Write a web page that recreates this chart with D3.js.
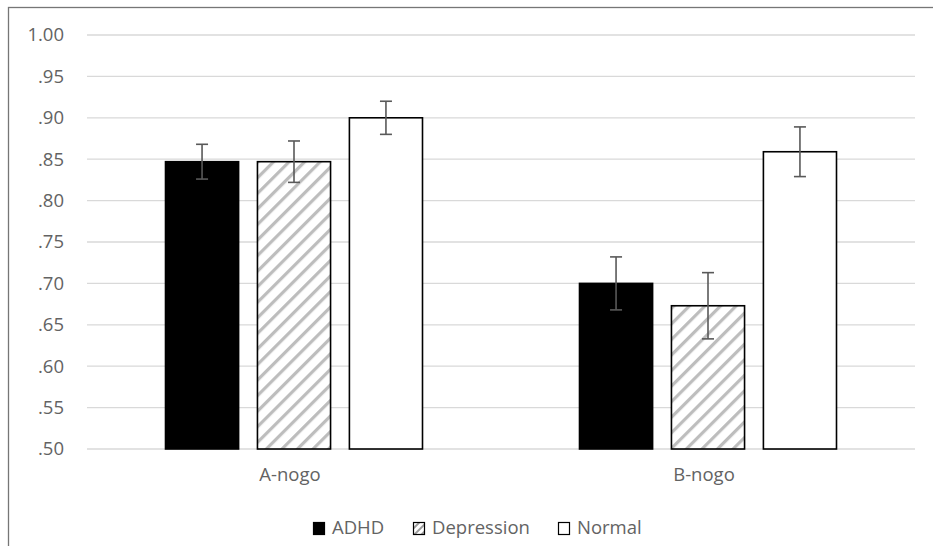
<!DOCTYPE html>
<html>
<head>
<meta charset="utf-8">
<script src="https://cdn.jsdelivr.net/npm/d3@7"></script>
<style>
  body { margin: 0; background: #fff; }
  svg { display: block; font-family: "Open Sans", "Noto Sans", sans-serif; }
</style>
</head>
<body>
<div id="chart"></div>
<script>
// chart data
const categories = ['A-nogo', 'B-nogo'];
const groups = ['ADHD', 'Depression', 'Normal'];
const means = {
  ADHD: [0.847, 0.700],
  Depression: [0.847, 0.673],
  Normal: [0.900, 0.859]
};
const errors = {
  ADHD: [0.021, 0.032],
  Depression: [0.025, 0.040],
  Normal: [0.020, 0.030]
};
const yTicks = [0.50, 0.55, 0.60, 0.65, 0.70, 0.75, 0.80, 0.85, 0.90, 0.95, 1.00];

const W = 933, H = 546;
const margin = { top: 35, right: 18, bottom: 97, left: 87 };
const width = W - margin.left - margin.right;
const height = H - margin.top - margin.bottom;
const fontSize = '18.5px';

const svg = d3.select('#chart').append('svg')
  .attr('width', W).attr('height', H);

// hatch pattern for Depression
const defs = svg.append('defs');
const pat = defs.append('pattern')
  .attr('id', 'hatch')
  .attr('patternUnits', 'userSpaceOnUse')
  .attr('width', 11).attr('height', 11)
  .attr('patternTransform', 'rotate(45)');
pat.append('rect').attr('width', 11).attr('height', 11).attr('fill', '#fff');
pat.append('rect').attr('x', 0).attr('y', 0).attr('width', 3.2).attr('height', 11).attr('fill', '#bdbdbd');

const legPat = defs.append('pattern')
  .attr('id', 'hatchSmall')
  .attr('patternUnits', 'userSpaceOnUse')
  .attr('width', 5).attr('height', 5)
  .attr('patternTransform', 'rotate(45)');
legPat.append('rect').attr('width', 5).attr('height', 5).attr('fill', '#fff');
legPat.append('rect').attr('width', 2).attr('height', 5).attr('fill', '#9a9a9a');

// outer chart border
svg.append('rect')
  .attr('x', 8.5).attr('y', 7.5)
  .attr('width', W + 10).attr('height', H + 10)
  .attr('fill', 'none').attr('stroke', '#767676').attr('stroke-width', 1.3);

const g = svg.append('g').attr('transform', `translate(${margin.left},${margin.top})`);

const x0 = d3.scaleBand().domain(categories).range([0, width]).paddingInner(0).paddingOuter(0);
const x1 = d3.scaleBand().domain(groups).range([0, 257]).paddingInner(0.205).paddingOuter(0);
const y = d3.scaleLinear().domain([0.5, 1.0]).range([height, 0]);

// gridlines
g.append('g').selectAll('line').data(yTicks).enter().append('line')
  .attr('x1', 0).attr('x2', width)
  .attr('y1', d => y(d)).attr('y2', d => y(d))
  .attr('stroke', '#d9d9d9').attr('stroke-width', 1.3);

// y axis labels
const yAxis = d3.axisLeft(y).tickValues(yTicks)
  .tickSize(0).tickPadding(23)
  .tickFormat(d => d === 1 ? '1.00' : d3.format('.2f')(d).replace(/^0/, ''));
g.append('g').call(yAxis)
  .call(s => s.select('.domain').remove())
  .selectAll('text')
  .attr('fill', '#636363').style('font-size', fontSize)
  .style('font-family', '"Open Sans", "Noto Sans", sans-serif');

// x axis labels
g.append('g').attr('transform', `translate(-4,${height})`)
  .call(d3.axisBottom(x0).tickSize(0).tickPadding(19))
  .call(s => s.select('.domain').remove())
  .selectAll('text')
  .attr('fill', '#636363').style('font-size', fontSize)
  .style('font-family', '"Open Sans", "Noto Sans", sans-serif');

const fills = { ADHD: '#000', Depression: 'url(#hatch)', Normal: '#fff' };

const rows = [];
categories.forEach((c, i) => {
  groups.forEach(gr => rows.push({ cat: c, group: gr, v: means[gr][i], e: errors[gr][i] }));
});

const groupOffset = (x0.bandwidth() - 257) / 2;

const bars = g.append('g');
bars.selectAll('rect').data(rows).enter().append('rect')
  .attr('x', d => x0(d.cat) + groupOffset + x1(d.group))
  .attr('y', d => y(d.v))
  .attr('width', x1.bandwidth())
  .attr('height', d => height - y(d.v))
  .attr('fill', d => fills[d.group])
  .attr('stroke', '#000').attr('stroke-width', 1.6);

// error bars
const eb = g.append('g').attr('stroke', '#595959').attr('stroke-width', 1.6);
rows.forEach(d => {
  const cx = x0(d.cat) + groupOffset + x1(d.group) + x1.bandwidth() / 2;
  eb.append('line').attr('x1', cx).attr('x2', cx).attr('y1', y(d.v + d.e)).attr('y2', y(d.v - d.e));
  eb.append('line').attr('x1', cx - 6).attr('x2', cx + 6).attr('y1', y(d.v + d.e)).attr('y2', y(d.v + d.e));
  eb.append('line').attr('x1', cx - 6).attr('x2', cx + 6).attr('y1', y(d.v - d.e)).attr('y2', y(d.v - d.e));
});

// legend
const legendX = [313, 413, 558];
const leg = svg.append('g');
groups.forEach((gr, i) => {
  leg.append('rect')
    .attr('x', legendX[i] + 0.5).attr('y', 522.5)
    .attr('width', 11).attr('height', 12)
    .attr('fill', gr === 'Depression' ? 'url(#hatchSmall)' : fills[gr])
    .attr('stroke', '#000').attr('stroke-width', 1.2);
  leg.append('text')
    .attr('x', legendX[i] + 19).attr('y', 534)
    .attr('fill', '#636363').style('font-size', fontSize)
    .text(gr);
});
</script>
</body>
</html>
